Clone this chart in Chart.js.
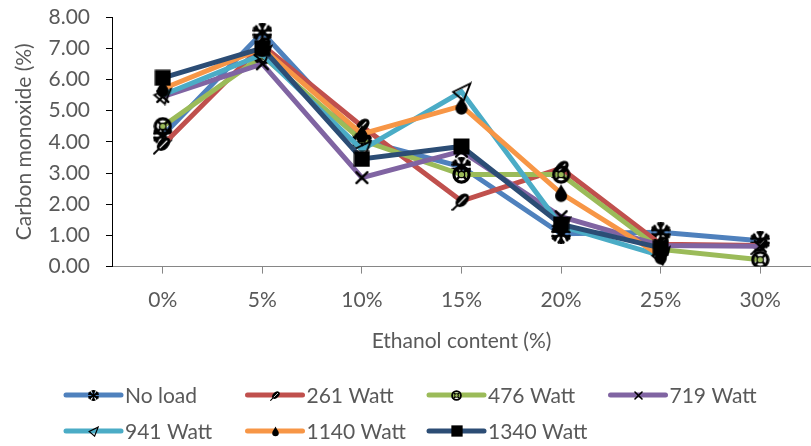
<!DOCTYPE html>
<html>
<head>
<meta charset="utf-8">
<script src="https://cdn.jsdelivr.net/npm/chart.js@4.4.0/dist/chart.umd.min.js"></script>
<style>
    html, body { margin: 0; padding: 0; background: #fff; overflow: hidden; }
    #wrap { width: 823px; height: 446px; }
</style>
</head>
<body>
<div id="wrap"><canvas id="coChart" width="823" height="446"></canvas></div>
<script>
// Carbon monoxide vs ethanol content

const categories = ['0%', '5%', '10%', '15%', '20%', '25%', '30%'];
const seriesNames = ['No load', '261 Watt', '476 Watt', '719 Watt', '941 Watt', '1140 Watt', '1340 Watt'];

const noLoad   = [4.20, 7.50, 4.05, 3.20, 1.05, 1.10, 0.83];
const watt261  = [3.90, 7.10, 4.50, 2.10, 3.15, 0.72, 0.68];
const watt476  = [4.50, 6.75, 4.05, 2.95, 2.95, 0.55, 0.22];
const watt719  = [5.45, 6.50, 2.85, 3.70, 1.60, 0.68, 0.65];
const watt941  = [5.50, 6.80, 3.75, 5.60, 1.30, 0.35, null];
const watt1140 = [5.70, 7.00, 4.25, 5.15, 2.35, 0.35, null];
const watt1340 = [6.05, 7.00, 3.45, 3.85, 1.35, 0.60, null];

const yTickLabels = ['0.00', '1.00', '2.00', '3.00', '4.00', '5.00', '6.00', '7.00', '8.00'];

const seriesValues = [noLoad, watt261, watt476, watt719, watt941, watt1140, watt1340];
const seriesColors = ['#4F81BD', '#C0504D', '#9BBB59', '#8064A2', '#4BACC6', '#F79646', '#2C4D75'];
const markerKinds = ['snow', 'leaf', 'wheel', 'cross', 'tri', 'drop', 'square'];
const markerSizes = { snow: 20, leaf: 20, wheel: 19, cross: 17, tri: 21, drop: 20, square: 17 };

const FONT = 'Lato';
const TEXT = '#595959';

// ==========================
// MARKERS (drawn on small canvases)
// ==========================
function makeMarker(kind, s) {
    const c = document.createElement('canvas');
    c.width = s; c.height = s;
    const g = c.getContext('2d');
    const m = s / 2;
    g.fillStyle = '#000';
    g.strokeStyle = '#000';
    g.lineCap = 'round';

    if (kind === 'snow') {
        g.lineWidth = Math.max(1, s / 7);
        const r = s * 0.46;
        for (let k = 0; k < 6; k++) {
            const a = Math.PI / 2 + k * Math.PI / 3;
            const ex = m + r * Math.cos(a), ey = m + r * Math.sin(a);
            g.beginPath(); g.moveTo(m, m); g.lineTo(ex, ey); g.stroke();
            const bx = m + r * 0.62 * Math.cos(a), by = m + r * 0.62 * Math.sin(a);
            for (const d of [-0.7, 0.7]) {
                g.beginPath();
                g.moveTo(bx, by);
                g.lineTo(bx + r * 0.38 * Math.cos(a + d), by + r * 0.38 * Math.sin(a + d));
                g.stroke();
            }
        }
        g.beginPath(); g.arc(m, m, s * 0.15, 0, Math.PI * 2); g.fill();
    } else if (kind === 'leaf') {
        const a = -Math.PI / 4;
        g.beginPath();
        g.ellipse(m + s * 0.04, m - s * 0.04, s * 0.4, s * 0.26, a, 0, Math.PI * 2);
        g.fill();
        // white vein and dark stem
        g.strokeStyle = '#fff';
        g.lineWidth = Math.max(0.8, s / 18);
        g.beginPath();
        g.moveTo(m - s * 0.14, m + s * 0.14);
        g.lineTo(m + s * 0.2, m - s * 0.2);
        g.stroke();
        g.strokeStyle = '#000';
        g.lineWidth = Math.max(1, s / 10);
        g.beginPath();
        g.moveTo(m - s * 0.22, m + s * 0.22);
        g.lineTo(m - s * 0.44, m + s * 0.44);
        g.stroke();
    } else if (kind === 'wheel') {
        const r = s * 0.4;
        g.lineWidth = Math.max(1, s / 6);
        g.beginPath(); g.arc(m, m, r, 0, Math.PI * 2); g.stroke();
        g.lineWidth = Math.max(1, s / 8);
        for (let k = 0; k < 4; k++) {
            const a = Math.PI / 4 + k * Math.PI / 2;
            g.beginPath();
            g.moveTo(m + r * 0.4 * Math.cos(a), m + r * 0.4 * Math.sin(a));
            g.lineTo(m + r * Math.cos(a), m + r * Math.sin(a));
            g.stroke();
        }
        g.fillStyle = '#9BBB59';
        g.beginPath(); g.arc(m, m, r * 0.42, 0, Math.PI * 2); g.fill();
        g.lineWidth = Math.max(0.8, s / 16);
        g.stroke();
    } else if (kind === 'cross') {
        g.lineWidth = Math.max(1.4, s / 7);
        const d = s * 0.32;
        g.beginPath();
        g.moveTo(m - d, m - d); g.lineTo(m + d, m + d);
        g.moveTo(m + d, m - d); g.lineTo(m - d, m + d);
        g.stroke();
    } else if (kind === 'tri') {
        g.lineWidth = Math.max(1.2, s / 11);
        g.lineJoin = 'miter';
        g.beginPath();
        g.moveTo(s * 0.1, s * 0.5);
        g.lineTo(s * 0.92, s * 0.1);
        g.lineTo(s * 0.6, s * 0.92);
        g.closePath();
        g.stroke();
    } else if (kind === 'drop') {
        const r = s * 0.3;
        g.beginPath();
        g.moveTo(m, s * 0.04);
        g.bezierCurveTo(m + r * 0.3, s * 0.28, m + r, s * 0.44, m + r, s * 0.64);
        g.arc(m, s * 0.64, r, 0, Math.PI);
        g.bezierCurveTo(m - r, s * 0.44, m - r * 0.3, s * 0.28, m, s * 0.04);
        g.fill();
    } else if (kind === 'square') {
        g.fillRect(s * 0.03, s * 0.03, s * 0.94, s * 0.94);
    }
    return c;
}

const chartMarkers = markerKinds.map(k => makeMarker(k, markerSizes[k]));
const legendMarkers = markerKinds.map(k => makeMarker(k, k === 'square' ? 12 : 11));

// ==========================
// LEGEND (fixed grid, 4 columns)
// ==========================
const gridLegend = {
    id: 'gridLegend',
    afterDraw(chart) {
        const ctx = chart.ctx;
        chart.data.datasets.forEach((ds, i) => {
            const col = i % 4;
            const row = Math.floor(i / 4);
            const x = 66 + col * 181.5;
            const y = 395 + row * 36;
            ctx.save();
            ctx.strokeStyle = ds.borderColor;
            ctx.lineWidth = 5;
            ctx.lineCap = 'round';
            ctx.beginPath();
            ctx.moveTo(x, y);
            ctx.lineTo(x + 55, y);
            ctx.stroke();
            const mk = legendMarkers[i];
            ctx.drawImage(mk, Math.round(x + 27.5 - mk.width / 2), Math.round(y - mk.height / 2));
            ctx.fillStyle = TEXT;
            ctx.font = '21px ' + FONT;
            ctx.textBaseline = 'middle';
            ctx.fillText(ds.label, x + 59, y + 1);
            ctx.restore();
        });
    }
};

// ==========================
// CHART
// ==========================
const datasets = seriesNames.map((name, i) => ({
    label: name,
    data: seriesValues[i],
    borderColor: seriesColors[i],
    backgroundColor: seriesColors[i],
    borderWidth: 5,
    pointStyle: chartMarkers[i],
    pointRadius: 8,
    tension: 0,
    fill: false,
    order: seriesNames.length - i
}));

new Chart(document.getElementById('coChart'), {
    type: 'line',
    data: { labels: categories, datasets: datasets },
    plugins: [gridLegend],
    options: {
        responsive: false,
        animation: false,
        events: [],
        layout: { padding: { left: 0, right: 2, top: 17, bottom: 92 } },
        plugins: {
            legend: { display: false },
            tooltip: { enabled: false }
        },
        scales: {
            x: {
                offset: true,
                grid: {
                    offset: false,
                    drawOnChartArea: false,
                    drawTicks: true,
                    tickLength: 7,
                    tickColor: '#868686'
                },
                border: { display: true, color: '#868686', width: 1 },
                ticks: {
                    color: TEXT,
                    font: { family: FONT, size: 21 },
                    padding: 14,
                    maxRotation: 0
                },
                title: {
                    display: true,
                    text: 'Ethanol content (%)',
                    color: TEXT,
                    font: { family: FONT, size: 21 },
                    padding: { top: 2, bottom: 0 }
                }
            },
            y: {
                min: 0,
                max: 8,
                grid: {
                    drawOnChartArea: false,
                    drawTicks: true,
                    // long tick slot, only the 7px next to the axis is drawn
                    tickLength: 22,
                    tickBorderDash: [0, 15, 7, 100],
                    tickColor: '#000'
                },
                border: { display: true, color: '#000', width: 1 },
                ticks: {
                    stepSize: 1,
                    color: TEXT,
                    font: { family: FONT, size: 21 },
                    padding: 1,
                    callback: (v, i) => yTickLabels[i]
                },
                title: {
                    display: true,
                    text: 'Carbon monoxide (%)',
                    color: TEXT,
                    font: { family: FONT, size: 21, lineHeight: 1.0 },
                    padding: { top: 13.5, bottom: 13 }
                }
            }
        }
    }
});
</script>
</body>
</html>
